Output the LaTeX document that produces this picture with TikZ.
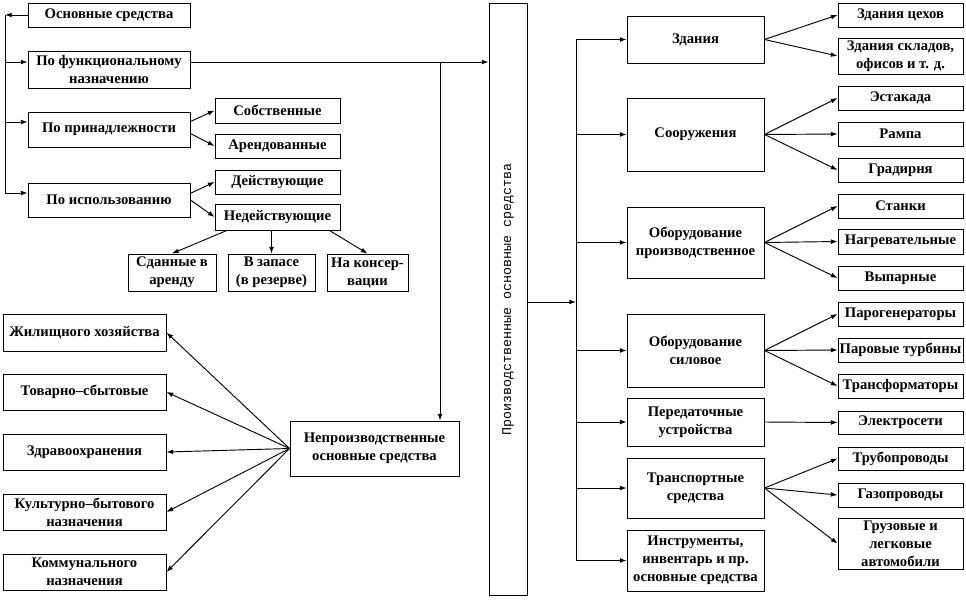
\documentclass[tikz,border=0pt]{standalone}
\usepackage{fontspec}
\setmainfont{Liberation Serif}
\newfontfamily\monofam{Liberation Mono}
\usepackage{tikz}
\usetikzlibrary{arrows.meta}
\tikzset{every path/.style={line width=0.7pt}}
\tikzset{box/.style={draw,align=center,inner sep=1pt,font=\fontsize{11}{13.5}\selectfont\bfseries},
  sz/.style 2 args={minimum width=#1*0.75pt,minimum height=#2*0.75pt},
  arr/.style={-{Latex[length=5pt,width=3.6pt]}}}

\begin{document}
\begin{tikzpicture}[x=0.75pt,y=-0.75pt]
\useasboundingbox (0,0) rectangle (966,599);

% left part
\node[box,sz={162}{24}] (os) at (109,15) {Основные средства};
\node[box,sz={162}{37}] (fn) at (109,69.5) {По функциональному\\назначению};
\node[box,sz={162}{35}] (pp) at (109,129.5) {По принадлежности};
\node[box,sz={162}{34}] (isp) at (109,200) {По использованию};
\node[box,sz={125}{25}] (sob) at (277.5,110.5) {Собственные};
\node[box,sz={125}{24}] (arn) at (277.5,146) {Арендованные};
\node[box,sz={125}{24}] (dey) at (277.5,182) {Действующие};
\node[box,sz={125}{26}] (ndey) at (277.5,217) {Недействующие};
\node[box,sz={88}{37}] (sd) at (172,272.5) {Сданные в\\аренду};
\node[box,sz={87}{37}] (vz) at (271.5,272.5) {В запасе\\(в резерве)};
\node[box,sz={81}{37}] (nk) at (367.5,272.5) {На консер-\\вации};

\coordinate (t0) at (5,15);
\coordinate (t1) at (5,62);
\coordinate (t2) at (5,122);
\coordinate (t3) at (5,193);
\draw[arr] (os.west) -- (t0);
\draw (t0) -- (t3);
\draw[arr] (t1) -- (t1 -| fn.west);
\draw[arr] (t2) -- (t2 -| pp.west);
\draw[arr] (t3) -- (t3 -| isp.west);

\draw[arr] ([yshift=6pt]pp.east) -- (sob.west);
\draw[arr] ([yshift=-3pt]pp.east) -- (arn.west);
\draw[arr] ([yshift=5pt]isp.east) -- (dey.west);
\draw[arr] (isp.east) -- (ndey.west);
\draw[arr] ([xshift=-38pt]ndey.south) -- (sd.north);
\draw[arr] (ndey.south -| vz.north) -- (vz.north);
\draw[arr] ([xshift=39pt]ndey.south) -- (nk.north);

% non-production
\node[box,sz={163}{37}] (zh) at (84.5,332.5) {Жилищного хозяйства};
\node[box,sz={163}{36}] (tov) at (84.5,392) {Товарно–сбытовые};
\node[box,sz={163}{36}] (zdr) at (84.5,452) {Здравоохранения};
\node[box,sz={163}{36}] (kult) at (84.5,512) {Культурно–бытового\\назначения};
\node[box,sz={163}{36}] (komm) at (84.5,572) {Коммунального\\назначения};
\node[box,sz={169}{55}] (np) at (374.5,448.5) {Непроизводственные\\основные средства};
\foreach \t in {zh,tov,zdr,kult,komm}
  \draw[arr] (np.west) -- (\t.east);

% production
\node[draw,sz={38}{592},inner sep=0pt] (pr) at (508,299)
  {\rotatebox{90}{\monofam\fontsize{10}{12}\selectfont Производственные основные средства}};

\coordinate (j1) at (440,62);
\draw[arr] (fn.east |- j1) -- (j1 -| pr.west);
\draw[arr] (j1) -- (j1 |- np.north);

\node[box,sz={137}{47}] (zd) at (695.5,39.5) {Здания};
\node[box,sz={137}{73}] (soor) at (695.5,134.5) {Сооружения};
\node[box,sz={137}{71}] (obpr) at (695.5,242.5) {Оборудование\\производственное};
\node[box,sz={137}{73}] (obsil) at (695.5,350.5) {Оборудование\\силовое};
\node[box,sz={137}{48}] (per) at (695.5,422) {Передаточные\\устройства};
\node[box,sz={137}{60}] (tr) at (695.5,488) {Транспортные\\средства};
\node[box,sz={137}{61}] (instr) at (695.5,560.5) {Инструменты,\\инвентарь и пр.\\основные средства};

\coordinate (r0) at (576,302);
\draw[arr] (r0 -| pr.east) -- (r0);
\draw (r0 |- zd.west) -- (r0 |- instr.west);
\foreach \m in {zd,soor,obpr,obsil,per,tr,instr}
  \draw[arr] (r0 |- \m.west) -- (\m.west);

% right column
\node[box,sz={125}{24}] (zc) at (900.5,15) {Здания цехов};
\node[box,sz={125}{36}] (zs) at (900.5,56) {Здания складов,\\офисов и т. д.};
\node[box,sz={125}{24}] (est) at (900.5,98) {Эстакада};
\node[box,sz={125}{24}] (ramp) at (900.5,134) {Рампа};
\node[box,sz={125}{24}] (grad) at (900.5,170) {Градирня};
\node[box,sz={125}{24}] (stan) at (900.5,206) {Станки};
\node[box,sz={125}{25}] (nagr) at (900.5,241.5) {Нагревательные};
\node[box,sz={125}{24}] (vyp) at (900.5,278) {Выпарные};
\node[box,sz={125}{24}] (parg) at (900.5,314) {Парогенераторы};
\node[box,sz={125}{24}] (part) at (900.5,350) {Паровые турбины};
\node[box,sz={125}{24}] (trf) at (900.5,386) {Трансформаторы};
\node[box,sz={125}{23}] (el) at (900.5,422.5) {Электросети};
\node[box,sz={125}{23}] (trub) at (900.5,458.5) {Трубопроводы};
\node[box,sz={125}{24}] (gaz) at (900.5,495) {Газопроводы};
\node[box,sz={125}{51}] (gruz) at (900.5,543.5) {Грузовые и\\легковые\\автомобили};

\foreach \a/\b in {zd/zc,zd/zs,soor/est,soor/ramp,soor/grad,obpr/stan,obpr/nagr,obpr/vyp,
    obsil/parg,obsil/part,obsil/trf,per/el,tr/trub,tr/gaz,tr/gruz}
  \draw[arr] (\a.east) -- (\b.west);
\end{tikzpicture}
\end{document}
